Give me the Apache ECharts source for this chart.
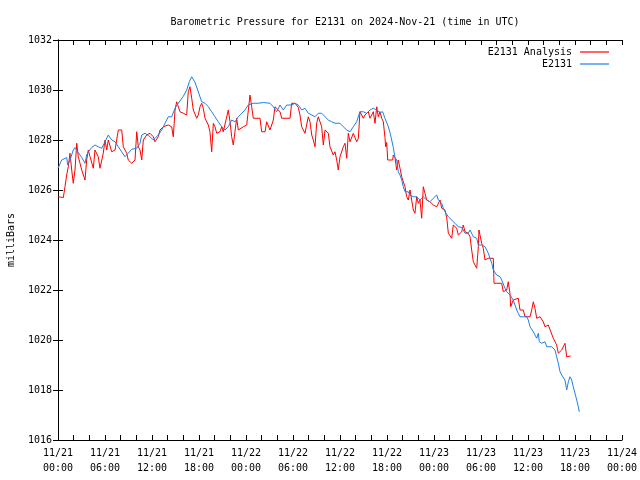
<!DOCTYPE html>
<html>
<head>
<meta charset="utf-8">
<script src="https://cdn.jsdelivr.net/npm/echarts@6/dist/echarts.min.js"></script>
<style>html,body{margin:0;padding:0;background:#fff}#c{width:640px;height:480px}</style>
</head>
<body>
<div id="c"></div>
<script>
// Hours since 2024-11-21 00:00 UTC
const analysisHours = [0.0,0.68,0.89,1.11,1.31,1.53,1.75,1.95,2.17,2.39,2.59,2.81,3.03,3.45,3.66,3.87,4.09,4.51,4.72,4.94,5.14,5.36,5.78,6.00,6.22,6.42,6.86,7.28,7.70,8.13,8.34,8.77,8.97,9.41,9.61,9.83,10.05,10.25,10.47,10.69,10.89,11.32,11.74,12.17,12.38,12.80,13.02,13.44,13.66,14.08,14.51,14.72,14.94,15.15,15.57,16.00,16.43,16.63,16.85,17.07,17.27,17.49,17.71,17.91,18.13,18.34,18.55,18.77,18.98,19.19,19.40,19.62,19.83,20.04,20.26,20.68,20.90,21.10,21.32,21.74,21.96,22.17,22.38,22.60,22.81,23.02,23.66,24.09,24.51,24.73,24.93,25.79,26.00,26.43,26.64,27.06,27.28,27.49,27.70,27.92,28.34,28.56,28.76,29.62,29.83,30.26,30.68,30.89,31.11,31.31,31.53,31.75,31.95,32.17,32.39,32.59,32.81,33.02,33.23,33.66,33.87,34.09,34.51,34.72,34.94,35.14,35.36,35.58,35.78,36.00,36.22,36.42,36.64,36.86,37.06,37.28,37.70,38.13,38.34,38.55,38.77,38.98,39.19,39.41,39.61,39.83,40.05,40.25,40.47,40.69,40.89,41.11,41.32,41.53,41.74,41.83,41.96,42.09,42.73,42.80,43.02,43.24,43.44,43.66,43.88,44.08,44.30,44.51,44.72,44.94,45.15,45.36,45.57,45.79,46.00,46.21,46.43,46.63,46.85,47.07,47.49,47.91,48.35,48.77,48.98,49.19,49.40,49.62,49.83,50.04,50.26,50.46,50.68,50.90,51.10,51.54,51.74,51.96,52.17,52.38,52.60,52.81,53.02,53.23,53.45,53.66,53.74,53.87,54.09,54.29,54.51,54.93,55.57,55.66,56.64,56.85,57.28,57.48,57.70,57.79,58.12,58.34,58.76,58.98,59.19,59.40,59.62,60.26,60.47,60.68,60.89,61.11,61.53,61.95,62.17,62.59,62.81,63.23,63.66,63.87,64.30,64.72,64.94,65.15,65.45];
const analysisValues = [1025.73,1025.70,1026.13,1026.60,1026.93,1027.47,1026.80,1026.27,1026.80,1027.87,1027.33,1027.07,1026.80,1026.40,1027.20,1027.60,1027.33,1026.87,1027.60,1027.67,1027.33,1026.87,1027.47,1028.00,1027.60,1028.00,1027.53,1027.60,1028.40,1028.40,1027.73,1027.47,1027.20,1027.07,1027.00,1027.20,1028.33,1027.73,1027.60,1027.20,1028.00,1028.20,1028.27,1028.13,1027.93,1028.13,1028.40,1028.53,1028.50,1028.60,1028.53,1028.13,1029.20,1029.53,1029.13,1029.07,1029.00,1029.93,1030.13,1029.67,1029.20,1029.27,1028.87,1029.00,1029.33,1029.47,1029.27,1028.87,1028.80,1028.60,1028.33,1027.53,1028.67,1028.53,1028.27,1028.33,1028.53,1028.33,1028.27,1029.20,1028.73,1028.13,1027.80,1027.80,1028.87,1028.40,1028.53,1028.60,1029.80,1029.33,1028.87,1028.87,1028.33,1028.33,1028.73,1028.40,1028.60,1028.80,1029.33,1029.27,1029.13,1028.87,1028.87,1028.87,1029.47,1029.47,1029.30,1029.00,1028.53,1028.47,1028.27,1028.20,1028.93,1028.73,1028.20,1028.00,1027.73,1028.67,1028.93,1028.53,1027.80,1028.40,1028.27,1027.73,1027.73,1027.40,1027.53,1027.20,1026.80,1027.33,1027.33,1027.73,1027.87,1027.27,1028.27,1027.93,1028.27,1027.93,1028.07,1029.13,1029.20,1028.87,1029.00,1028.93,1029.13,1028.87,1028.80,1029.13,1028.67,1029.33,1028.93,1029.13,1028.87,1028.73,1028.10,1027.73,1027.90,1027.20,1027.20,1027.40,1027.30,1026.80,1027.20,1026.87,1026.53,1026.33,1026.13,1025.73,1025.60,1026.00,1025.60,1025.20,1025.07,1025.73,1025.47,1025.60,1024.87,1026.13,1025.87,1025.60,1025.53,1025.40,1025.33,1025.60,1025.27,1025.20,1025.20,1024.90,1024.27,1024.20,1024.07,1024.60,1024.60,1024.47,1024.20,1024.33,1024.60,1024.33,1024.27,1024.27,1024.13,1023.60,1023.13,1023.07,1022.87,1023.73,1024.40,1024.20,1023.87,1023.67,1023.20,1023.27,1023.27,1022.27,1022.27,1021.93,1022.00,1022.33,1021.87,1021.33,1021.60,1021.67,1021.67,1021.20,1021.27,1021.20,1020.93,1020.93,1021.20,1021.53,1021.27,1020.87,1020.93,1020.73,1020.53,1020.60,1020.60,1020.07,1019.80,1019.47,1019.60,1019.87,1019.33,1019.40,1019.36];

const stationHours = [0.0,0.47,1.11,1.24,1.53,1.95,2.17,2.59,3.03,3.45,3.66,3.87,4.30,4.72,5.14,5.58,6.00,6.42,6.64,6.86,7.28,7.70,8.13,8.55,8.97,9.41,10.05,10.47,10.69,11.11,11.74,12.17,12.38,12.80,13.24,13.66,14.08,14.51,14.94,15.36,16.00,16.43,16.76,17.07,17.49,17.91,18.34,18.77,19.19,19.62,20.04,20.46,20.90,21.32,21.74,22.17,22.60,23.02,23.45,23.87,24.29,24.93,25.57,26.21,27.06,27.49,27.92,28.34,28.76,29.20,29.83,30.26,30.68,31.11,31.53,31.95,32.39,32.81,33.23,33.66,34.09,34.51,34.94,35.36,36.00,36.42,36.86,37.28,37.70,38.13,38.55,38.98,39.41,39.83,40.25,40.69,41.11,41.45,41.74,42.17,42.38,42.60,42.80,43.02,43.24,43.44,43.66,43.88,44.08,44.30,44.51,44.72,44.94,45.36,45.79,46.21,46.63,47.07,47.49,47.91,48.35,48.55,48.98,49.19,49.40,49.62,49.83,50.04,50.68,51.10,51.54,51.96,52.38,52.60,52.81,53.02,53.45,53.66,54.09,54.51,54.73,54.93,55.37,55.57,56.00,56.43,56.64,57.06,57.28,57.70,58.12,58.56,58.76,58.98,59.40,59.83,60.04,60.26,60.68,61.11,61.32,61.44,61.75,62.17,62.39,63.03,63.45,63.66,63.87,64.09,64.30,64.72,64.94,65.15,65.36,65.58,65.78,66.00,66.22,66.42,66.55];
const stationValues = [1026.87,1027.20,1027.30,1027.00,1027.20,1027.60,1027.70,1027.50,1027.30,1027.07,1027.40,1027.53,1027.70,1027.80,1027.73,1027.67,1027.93,1028.20,1028.13,1028.00,1027.93,1027.73,1027.53,1027.33,1027.47,1027.63,1027.67,1027.87,1028.20,1028.27,1028.13,1028.00,1027.93,1028.20,1028.40,1028.67,1028.93,1028.93,1029.27,1029.47,1029.75,1030.00,1030.33,1030.53,1030.30,1029.93,1029.53,1029.47,1029.33,1029.13,1028.93,1028.73,1028.53,1028.40,1028.53,1028.80,1028.73,1028.93,1029.07,1029.20,1029.40,1029.47,1029.47,1029.50,1029.47,1029.33,1029.13,1029.40,1029.20,1029.40,1029.40,1029.47,1029.40,1029.20,1029.27,1029.07,1029.00,1028.93,1029.07,1029.07,1028.93,1028.80,1028.73,1028.67,1028.67,1028.53,1028.40,1028.33,1028.53,1028.73,1029.13,1029.13,1029.07,1029.20,1029.27,1029.20,1029.10,1029.13,1028.87,1028.53,1028.30,1028.00,1027.70,1027.30,1027.20,1026.73,1026.60,1026.40,1026.13,1025.93,1025.87,1025.93,1025.80,1025.73,1025.73,1025.60,1025.73,1025.60,1025.53,1025.67,1025.80,1025.60,1025.47,1025.27,1025.13,1025.07,1024.93,1024.93,1024.67,1024.53,1024.50,1024.27,1024.27,1024.40,1024.40,1024.13,1024.07,1023.80,1023.80,1023.73,1023.60,1023.47,1023.07,1022.80,1022.60,1022.53,1022.40,1022.07,1021.93,1021.80,1021.60,1021.20,1021.07,1020.93,1020.93,1020.93,1020.80,1020.53,1020.33,1020.07,1020.27,1019.93,1019.87,1019.93,1019.73,1019.73,1019.60,1019.33,1019.07,1018.73,1018.60,1018.40,1018.00,1018.33,1018.53,1018.40,1018.13,1017.87,1017.60,1017.33,1017.13];

const seriesNames = ['E2131 Analysis', 'E2131'];
const titleText = 'Barometric Pressure for E2131 on 2024-Nov-21 (time in UTC)';

const zip = (a, b) => a.map((x, i) => [x, b[i]]);
const FONT = 'DejaVu Sans Mono';

function xLabel(v) {
  if (v % 6 !== 0) return '';
  const day = 21 + Math.floor(v / 24);
  const hr = v % 24;
  return '11/' + day + '\n' + String(hr).padStart(2, '0') + ':00';
}

const chart = echarts.init(document.getElementById('c'), null, {renderer: 'canvas'});
const axisLine = {show: true, lineStyle: {color: '#000', width: 1}};
const tick = {show: true, inside: true, length: 5, lineStyle: {color: '#000', width: 1}};
chart.setOption({
  animation: false,
  backgroundColor: '#fff',
  title: {
    text: titleText, left: 340, textAlign: 'center', top: 12,
    textStyle: {fontFamily: FONT, fontSize: 10, fontWeight: 'normal', color: '#000'}
  },
  legend: {
    orient: 'vertical', right: 26, top: 42, align: 'right',
    itemWidth: 29, itemHeight: 1.2, itemGap: 2, icon: 'rect',
    textStyle: {fontFamily: FONT, fontSize: 10, color: '#000', padding: [0, 3, 0, 0]},
    data: seriesNames
  },
  grid: {left: 58, right: 18, top: 40, bottom: 40, containLabel: false, outerBoundsMode: 'none'},
  xAxis: [{
    type: 'value', min: 0, max: 72, interval: 2,
    axisLine: axisLine, axisTick: tick, splitLine: {show: false},
    axisLabel: {formatter: xLabel, fontFamily: FONT, fontSize: 10, color: '#000', lineHeight: 15, margin: 6, showMinLabel: true, showMaxLabel: true}
  }, {
    type: 'value', min: 0, max: 72, interval: 2, position: 'top',
    axisLine: axisLine, axisTick: tick, splitLine: {show: false}, axisLabel: {show: false}
  }],
  yAxis: [{
    type: 'value', min: 1016, max: 1032, interval: 2,
    name: 'milliBars', nameLocation: 'middle', nameGap: 42, nameRotate: 90,
    nameTextStyle: {fontFamily: FONT, fontSize: 10, color: '#000'},
    axisLine: axisLine, axisTick: tick, splitLine: {show: false},
    axisLabel: {fontFamily: FONT, fontSize: 10, color: '#000', margin: 6, formatter: v => String(v)}
  }, {
    type: 'value', min: 1016, max: 1032, interval: 2, position: 'right',
    axisLine: axisLine, axisTick: tick, splitLine: {show: false}, axisLabel: {show: false}
  }],
  series: [{
    name: seriesNames[0], type: 'line', showSymbol: false, symbol: 'none',
    data: zip(analysisHours, analysisValues),
    lineStyle: {color: '#ff0000', width: 1}, itemStyle: {color: '#ff0000'}
  }, {
    name: seriesNames[1], type: 'line', showSymbol: false, symbol: 'none',
    data: zip(stationHours, stationValues),
    lineStyle: {color: '#1e80e8', width: 1}, itemStyle: {color: '#1e80e8'}
  }]
});
</script>
</body>
</html>
